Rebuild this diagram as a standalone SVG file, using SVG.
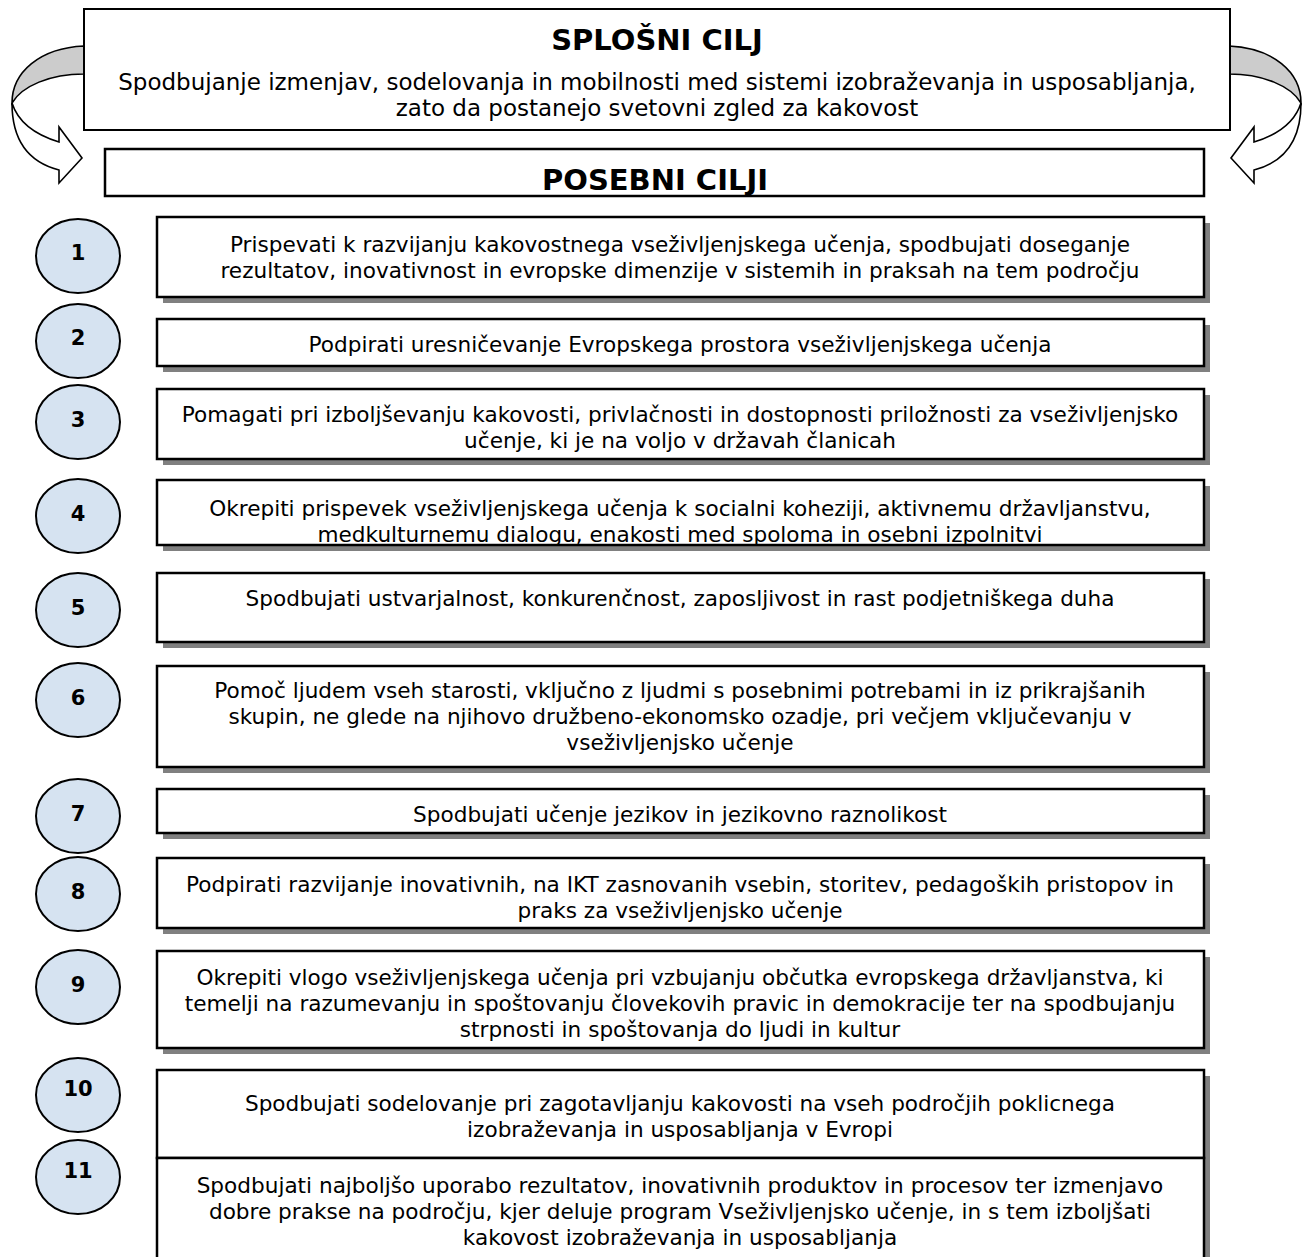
<svg xmlns="http://www.w3.org/2000/svg" width="1309" height="1257" viewBox="0 0 1309 1257">
<style>
text{font-family:"DejaVu Sans",Verdana,sans-serif;fill:#000;text-anchor:middle}
.t{font-size:21.6px}
.tt{font-size:23px}
.h{font-size:29px;font-weight:bold}
.box{fill:#fff;stroke:#000;stroke-width:2.5}
.sh{fill:#808080}
.c{fill:#d6e3f1;stroke:#000;stroke-width:2}
.n{font-size:21px;font-weight:bold}
.ar{stroke:#000;stroke-width:1.6;stroke-linejoin:miter}
</style>
<defs>
<g id="curl">
<path class="ar" fill="#cccccc" d="M84,46 C40,48 12,72 12,103 C22,86 50,74 84,74 Z"/>
<path class="ar" fill="#fff" d="M12,103 C18,122 36,135 59,142 L59,127 L82,158 L59,183 L59,170 C28,162 12,140 12,103 Z"/>
</g>
<clipPath id="k3"><rect x="157" y="389" width="1047" height="69"/></clipPath>
<clipPath id="k4"><rect x="157" y="480" width="1047" height="64"/></clipPath>
<clipPath id="k8"><rect x="157" y="858" width="1047" height="69"/></clipPath>
</defs>

<g id="connectors">
<use href="#curl"/>
<use href="#curl" transform="translate(1313,0) scale(-1,1)"/>
</g>

<g id="splosni">
<rect x="84" y="9" width="1146" height="121" fill="#fff" stroke="#000" stroke-width="2"/>
<text class="h" x="657" y="50">SPLOŠNI CILJ</text>
<text class="tt" x="657" y="90">Spodbujanje izmenjav, sodelovanja in mobilnosti med sistemi izobraževanja in usposabljanja,</text>
<text class="tt" x="657" y="116">zato da postanejo svetovni zgled za kakovost</text>
</g>

<g id="posebni">
<rect x="105" y="149" width="1099" height="47" fill="#fff" stroke="#000" stroke-width="2.5"/>
<text class="h" x="655" y="190">POSEBNI CILJI</text>
</g>

<g id="c1"><ellipse class="c" cx="78" cy="256" rx="42" ry="37"/><text class="n" x="78" y="260">1</text></g>
<g id="c2"><ellipse class="c" cx="78" cy="341" rx="42" ry="37"/><text class="n" x="78" y="345">2</text></g>
<g id="c3"><ellipse class="c" cx="78" cy="422" rx="42" ry="37"/><text class="n" x="78" y="427">3</text></g>
<g id="c4"><ellipse class="c" cx="78" cy="516" rx="42" ry="37"/><text class="n" x="78" y="521">4</text></g>
<g id="c5"><ellipse class="c" cx="78" cy="610" rx="42" ry="37"/><text class="n" x="78" y="615">5</text></g>
<g id="c6"><ellipse class="c" cx="78" cy="700" rx="42" ry="37"/><text class="n" x="78" y="705">6</text></g>
<g id="c7"><ellipse class="c" cx="78" cy="816" rx="42" ry="37"/><text class="n" x="78" y="821">7</text></g>
<g id="c8"><ellipse class="c" cx="78" cy="894" rx="42" ry="37"/><text class="n" x="78" y="899">8</text></g>
<g id="c9"><ellipse class="c" cx="78" cy="987" rx="42" ry="37"/><text class="n" x="78" y="992">9</text></g>
<g id="c10"><ellipse class="c" cx="78" cy="1095" rx="42" ry="37"/><text class="n" x="78" y="1096">10</text></g>
<g id="c11"><ellipse class="c" cx="78" cy="1177" rx="42" ry="37"/><text class="n" x="78" y="1178">11</text></g>

<g id="b1">
<rect class="sh" x="163" y="223" width="1047" height="80"/>
<rect class="box" x="157" y="217" width="1047" height="80"/>
<text class="t" x="680" y="252">Prispevati k razvijanju kakovostnega vseživljenjskega učenja, spodbujati doseganje</text>
<text class="t" x="680" y="278">rezultatov, inovativnost in evropske dimenzije v sistemih in praksah na tem področju</text>
</g>
<g id="b2">
<rect class="sh" x="163" y="325" width="1047" height="47"/>
<rect class="box" x="157" y="319" width="1047" height="47"/>
<text class="t" x="680" y="352">Podpirati uresničevanje Evropskega prostora vseživljenjskega učenja</text>
</g>
<g id="b3">
<rect class="sh" x="163" y="395" width="1047" height="70"/>
<rect class="box" x="157" y="389" width="1047" height="70"/>
<g clip-path="url(#k3)">
<text class="t" x="680" y="422">Pomagati pri izboljševanju kakovosti, privlačnosti in dostopnosti priložnosti za vseživljenjsko</text>
<text class="t" x="680" y="448">učenje, ki je na voljo v državah članicah</text>
</g>
</g>
<g id="b4">
<rect class="sh" x="163" y="486" width="1047" height="65"/>
<rect class="box" x="157" y="480" width="1047" height="65"/>
<g clip-path="url(#k4)">
<text class="t" x="680" y="516">Okrepiti prispevek vseživljenjskega učenja k socialni koheziji, aktivnemu državljanstvu,</text>
<text class="t" x="680" y="542">medkulturnemu dialogu, enakosti med spoloma in osebni izpolnitvi</text>
</g>
</g>
<g id="b5">
<rect class="sh" x="163" y="579" width="1047" height="69"/>
<rect class="box" x="157" y="573" width="1047" height="69"/>
<text class="t" x="680" y="606">Spodbujati ustvarjalnost, konkurenčnost, zaposljivost in rast podjetniškega duha</text>
</g>
<g id="b6">
<rect class="sh" x="163" y="672" width="1047" height="101"/>
<rect class="box" x="157" y="666" width="1047" height="101"/>
<text class="t" x="680" y="698">Pomoč ljudem vseh starosti, vključno z ljudmi s posebnimi potrebami in iz prikrajšanih</text>
<text class="t" x="680" y="724">skupin, ne glede na njihovo družbeno-ekonomsko ozadje, pri večjem vključevanju v</text>
<text class="t" x="680" y="750">vseživljenjsko učenje</text>
</g>
<g id="b7">
<rect class="sh" x="163" y="795" width="1047" height="44"/>
<rect class="box" x="157" y="789" width="1047" height="44"/>
<text class="t" x="680" y="822">Spodbujati učenje jezikov in jezikovno raznolikost</text>
</g>
<g id="b8">
<rect class="sh" x="163" y="864" width="1047" height="70"/>
<rect class="box" x="157" y="858" width="1047" height="70"/>
<g clip-path="url(#k8)">
<text class="t" x="680" y="892">Podpirati razvijanje inovativnih, na IKT zasnovanih vsebin, storitev, pedagoških pristopov in</text>
<text class="t" x="680" y="918">praks za vseživljenjsko učenje</text>
</g>
</g>
<g id="b9">
<rect class="sh" x="163" y="957" width="1047" height="97"/>
<rect class="box" x="157" y="951" width="1047" height="97"/>
<text class="t" x="680" y="985">Okrepiti vlogo vseživljenjskega učenja pri vzbujanju občutka evropskega državljanstva, ki</text>
<text class="t" x="680" y="1011">temelji na razumevanju in spoštovanju človekovih pravic in demokracije ter na spodbujanju</text>
<text class="t" x="680" y="1037">strpnosti in spoštovanja do ljudi in kultur</text>
</g>
<g id="b10">
<rect class="sh" x="1204" y="1076" width="6" height="200"/>
<rect class="box" x="157" y="1070" width="1047" height="88"/>
<text class="t" x="680" y="1111">Spodbujati sodelovanje pri zagotavljanju kakovosti na vseh področjih poklicnega</text>
<text class="t" x="680" y="1137">izobraževanja in usposabljanja v Evropi</text>
</g>
<g id="b11">
<rect class="box" x="157" y="1158" width="1047" height="120"/>
<text class="t" x="680" y="1193">Spodbujati najboljšo uporabo rezultatov, inovativnih produktov in procesov ter izmenjavo</text>
<text class="t" x="680" y="1219">dobre prakse na področju, kjer deluje program Vseživljenjsko učenje, in s tem izboljšati</text>
<text class="t" x="680" y="1245">kakovost izobraževanja in usposabljanja</text>
</g>
</svg>
